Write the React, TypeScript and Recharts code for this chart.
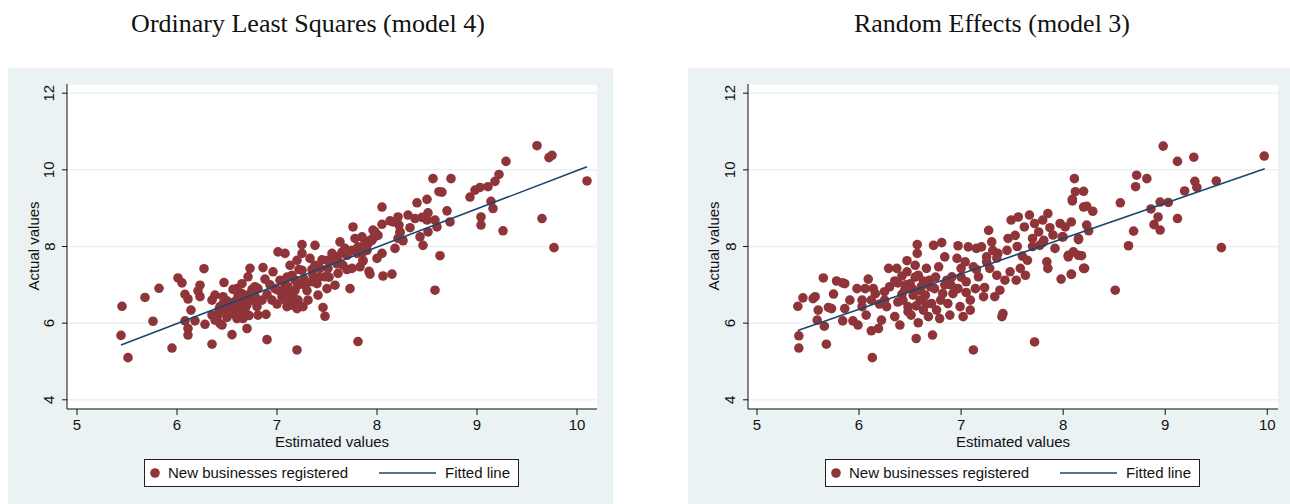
import { ScatterChart, Scatter, XAxis, YAxis, CartesianGrid } from "recharts";

// OLS (model 4): estimated vs actual
const olsEstimated = [
  5.45, 5.44, 5.51, 5.68, 5.76, 5.82, 5.95, 6.01, 6.05, 6.08, 6.11, 6.14, 6.08, 6.11, 6.11, 6.18, 6.23, 6.21, 6.23, 6.27,
  6.28, 6.35, 6.35, 6.38, 6.43, 6.47, 6.46, 6.41, 6.45, 6.5, 6.55, 6.56, 6.58, 6.61, 6.65, 6.68, 6.66, 6.7, 6.71, 6.73,
  6.75, 6.76, 6.81, 6.81, 6.86, 6.89, 6.9, 6.95, 6.96, 6.98, 7.01, 7.08, 7.03, 7.05, 7.1, 7.11, 7.13, 7.15, 7.16, 7.2,
  7.2, 7.2, 7.21, 7.25, 7.25, 7.26, 7.25, 7.31, 7.33, 7.35, 7.38, 7.38, 7.4, 7.41, 7.46, 7.48, 7.5, 7.48, 7.51, 7.55,
  7.58, 7.61, 7.63, 7.66, 7.68, 7.73, 7.75, 7.76, 7.78, 7.81, 7.81, 7.86, 7.88, 7.93, 7.95, 7.98, 8.0, 8.05, 8.05, 8.06,
  8.05, 8.13, 8.15, 8.18, 8.21, 8.23, 6.35, 6.38, 6.43, 6.48, 6.51, 6.55, 6.6, 6.61, 6.65, 6.68, 6.71, 6.65, 6.78, 6.8,
  6.85, 7.01, 7.08, 7.13, 7.18, 7.21, 7.28, 7.15, 7.08, 7.36, 7.43, 7.51, 7.56, 7.61, 7.7, 7.75, 7.8, 7.91, 7.96, 8.01,
  8.16, 8.21, 7.96, 7.98, 7.93, 7.9, 7.86, 7.86, 7.83, 7.92, 8.22, 8.23, 8.26, 8.31, 8.33, 8.38, 8.4, 8.43, 8.45, 8.46,
  8.5, 8.5, 8.51, 8.51, 8.58, 8.6, 8.63, 8.65, 8.62, 8.7, 8.73, 8.56, 8.74, 8.58, 8.93, 8.98, 9.03, 9.11, 9.04, 9.04,
  9.14, 9.16, 9.18, 9.22, 9.26, 9.29, 9.6, 9.65, 9.72, 9.75, 9.77, 10.1,
  6.42, 6.52, 6.57, 6.62, 6.7, 6.72, 6.5, 6.46, 6.9, 6.93, 7.05, 7.1, 7.18, 7.22, 7.27, 7.3, 7.35, 7.42, 7.45, 7.52,
  7.6, 7.65, 7.7, 7.85, 7.9, 6.6, 6.78, 7.0, 6.88, 7.12,
];
const olsActual = [
  6.44, 5.68, 5.1, 6.67, 6.05, 6.91, 5.35, 7.18, 7.05, 6.75, 6.63, 6.34, 6.06, 5.86, 5.69, 6.06, 6.99, 6.84, 6.69, 7.42,
  5.97, 5.45, 6.6, 6.73, 6.43, 7.06, 6.69, 6.21, 5.95, 6.15, 5.7, 6.88, 6.34, 6.69, 7.03, 6.34, 6.12, 5.86, 7.21, 7.43,
  6.88, 6.6, 6.21, 6.9, 7.45, 6.23, 5.57, 6.6, 7.34, 6.9, 7.86, 7.82, 7.12, 6.69, 6.43, 6.95, 7.51, 7.25, 6.69, 5.3,
  7.64, 6.38, 6.99, 8.05, 7.38, 6.43, 7.82, 6.6, 7.69, 7.08, 8.03, 7.51, 7.03, 6.73, 6.41, 6.18, 6.9, 7.21, 7.64, 7.82,
  6.99, 7.3, 8.12, 7.51, 7.95, 6.9, 7.43, 8.51, 8.21, 5.52, 7.99, 7.64, 8.12, 7.28, 8.16, 8.38, 7.69, 7.82, 9.03, 7.23,
  8.58, 8.67, 7.28, 7.95, 8.77, 8.38, 6.21, 6.08, 5.99, 6.3, 6.43, 6.25, 6.12, 6.51, 6.43, 6.6, 6.73, 6.77, 6.95, 6.43,
  6.6, 6.86, 7.03, 6.77, 7.12, 6.6, 6.99, 6.47, 6.6, 7.25, 7.43, 7.43, 7.64, 7.73, 7.77, 7.9, 7.82, 8.08, 8.21, 8.29,
  8.64, 8.21, 8.43, 8.27, 8.16, 8.03, 7.86, 7.62, 7.47, 7.35, 8.56, 8.36, 8.15, 8.82, 8.49, 8.73, 9.14, 8.25, 8.76, 8.03,
  8.69, 9.23, 8.88, 8.38, 8.69, 8.51, 7.76, 9.42, 9.43, 8.93, 8.64, 9.77, 9.77, 6.86, 9.29, 9.47, 9.54, 9.56, 8.77, 8.56,
  9.18, 8.99, 9.7, 9.88, 8.41, 10.22, 10.63, 8.73, 10.32, 10.38, 7.97, 9.71,
  6.35, 6.38, 6.55, 6.28, 6.48, 6.2, 6.58, 6.5, 6.75, 7.0, 6.85, 7.2, 6.85, 7.4, 7.15, 6.85, 7.4, 7.2, 7.65, 7.2,
  7.55, 7.85, 7.4, 8.25, 7.9, 6.9, 6.7, 6.5, 7.15, 6.6,
];
const olsFitX = [5.44, 10.1];
const olsFitY = [5.43, 10.08];

// Random effects (model 3): estimated vs actual
const reEstimated = [
  5.4, 5.41, 5.41, 5.45, 5.55, 5.57, 5.6, 5.59, 5.66, 5.68, 5.65, 5.7, 5.73, 5.75, 5.78, 5.84, 5.86, 5.84, 5.86, 5.91,
  5.94, 5.98, 5.99, 6.03, 6.03, 6.06, 6.07, 6.09, 6.12, 6.13, 6.14, 6.16, 6.19, 6.22, 6.25, 6.25, 6.27, 6.29, 6.35, 6.37,
  6.38, 6.4, 6.42, 6.43, 6.45, 6.47, 6.47, 6.48, 6.5, 6.51, 6.53, 6.55, 6.56, 6.57, 6.57, 6.58, 6.58, 6.6, 6.61, 6.63,
  6.65, 6.66, 6.68, 6.69, 6.71, 6.72, 6.73, 6.74, 6.76, 6.78, 6.79, 6.81, 6.82, 6.84, 6.86, 6.87, 6.89, 6.91, 6.92, 6.96,
  6.97, 6.97, 6.99, 7.0, 7.02, 7.04, 7.05, 7.07, 7.09, 7.09, 7.12, 7.12, 7.14, 7.15, 7.17, 7.2, 7.22, 7.23, 7.25, 7.27,
  7.28, 7.3, 7.31, 7.33, 7.35, 7.36, 7.38, 7.4, 7.41, 7.43, 7.46, 7.48, 7.49, 7.53, 7.54, 7.56, 7.58, 7.62, 7.63, 7.65,
  7.67, 7.7, 7.72, 7.72, 7.76, 7.77, 7.8, 7.84, 7.85, 7.85, 7.87, 7.92, 7.97, 7.98, 8.0, 8.05, 8.08, 8.08, 8.1, 8.15,
  8.15, 8.2, 8.2, 8.09, 7.81, 7.99, 8.02, 8.05, 8.08, 8.09, 8.12, 8.11, 8.15, 8.18, 8.2, 8.21, 8.23, 8.23, 8.25, 8.29,
  8.51, 8.56, 8.64, 8.69, 8.71, 8.72, 8.82, 8.86, 8.89, 8.93, 8.95, 8.95, 8.98, 9.03, 9.12, 9.12, 9.19, 9.28, 9.29, 9.31,
  9.5, 9.55, 9.97,
  6.3, 6.35, 6.42, 6.46, 6.52, 6.55, 6.6, 6.63, 6.66, 6.7, 6.75, 6.8, 6.84, 6.48, 6.56, 6.9, 7.0, 7.05, 7.15, 7.25,
  7.35, 7.45, 7.55, 7.6, 7.7, 7.8, 7.9, 6.2, 6.12, 6.38,
];
const reActual = [
  6.44, 5.67, 5.35, 6.66, 6.64, 6.69, 6.34, 6.08, 5.92, 5.45, 7.18, 6.41, 6.38, 6.76, 7.1, 7.05, 7.03, 6.06, 6.38, 6.6,
  6.06, 6.9, 5.95, 6.6, 6.43, 6.9, 6.21, 7.15, 5.8, 5.1, 6.9, 6.77, 5.86, 6.08, 6.82, 6.6, 6.43, 7.43, 6.17, 7.43,
  7.05, 5.95, 7.23, 6.6, 6.88, 7.63, 7.34, 6.43, 7.03, 6.21, 6.73, 7.51, 5.6, 8.05, 7.82, 6.01, 7.25, 6.6, 6.95, 6.34,
  6.73, 7.43, 6.17, 7.12, 6.51, 5.69, 8.03, 6.9, 6.34, 7.47, 6.12, 8.1, 6.77, 7.73, 7.12, 6.51, 6.21, 7.21, 6.77, 7.69,
  8.02, 6.9, 6.43, 7.43, 6.17, 7.6, 7.08, 7.99, 6.6, 6.34, 5.3, 7.47, 6.9, 7.95, 7.21, 7.99, 6.69, 6.93, 7.73, 8.42,
  7.43, 8.12, 7.9, 6.69, 7.25, 7.82, 6.86, 6.17, 6.25, 7.12, 8.21, 7.34, 8.69, 8.29, 7.12, 8.77, 7.43, 8.51, 7.25, 7.64,
  8.82, 8.21, 5.51, 8.6, 8.38, 8.03, 8.69, 7.6, 8.86, 7.43, 8.49, 7.95, 8.6, 7.15, 8.25, 7.73, 7.28, 8.64, 7.86, 7.77,
  8.21, 7.43, 9.03, 9.19, 8.16, 8.25, 8.51, 7.77, 7.27, 9.23, 9.43, 9.77, 8.18, 7.76, 9.44, 7.43, 9.05, 8.56, 8.41, 8.92,
  6.86, 9.14, 8.02, 8.4, 9.56, 9.86, 9.77, 8.98, 8.57, 8.77, 9.16, 8.43, 10.62, 9.15, 10.22, 8.73, 9.45, 10.33, 9.7, 9.54,
  9.71, 7.97, 10.36,
  6.95, 7.1, 6.75, 7.0, 6.9, 7.2, 6.85, 7.1, 6.5, 6.95, 7.2, 6.6, 7.0, 6.3, 6.45, 7.0, 7.2, 6.8, 7.4, 7.6,
  7.7, 7.9, 8.0, 7.75, 8.0, 8.1, 8.3, 6.5, 6.6, 6.55,
];
const reFitX = [5.4, 9.975];
const reFitY = [5.81, 10.03];

const xTicks = [5, 6, 7, 8, 9, 10];
const yTicks = [4, 6, 8, 10, 12];

const SANS = '"Liberation Sans", Arial, Helvetica, sans-serif';
const SERIF = '"Liberation Serif", "Times New Roman", serif';
const DOT = "#8f353a";
const NAVY = "#1a476f";
const PANEL_BG = "#eaf2f3";
const INK = "#111";

const PANEL_TOP = 68;
const PANEL_H = 504 - PANEL_TOP;
const Y_AXIS_W = 40;
const X_AXIS_H = 30;

const toPoints = (xs: number[], ys: number[]) => xs.map((x, i) => ({ x, y: ys[i] }));

const YTick = (props: any) => {
  const { x, y, payload } = props;
  return (
    <text
      x={x}
      y={y}
      transform={`rotate(-90 ${x} ${y})`}
      textAnchor="middle"
      dominantBaseline="central"
      fontSize={15}
      fontFamily={SANS}
      fill={INK}
    >
      {payload.value}
    </text>
  );
};

const Dot = (props: any) => <circle cx={props.cx} cy={props.cy} r={4.8} fill={DOT} />;

interface PanelProps {
  title: string;
  titleCenter: number;
  left: number;
  width: number;
  plotLeft: number;
  plotRight: number;
  xDomain: [number, number];
  estimated: number[];
  actual: number[];
  fitX: number[];
  fitY: number[];
  legendLeft: number;
  yTitleX: number;
}

function Panel(p: PanelProps) {
  const points = toPoints(p.estimated, p.actual);
  const fit = toPoints(p.fitX, p.fitY);
  const plotW = p.plotRight - p.plotLeft;

  return (
    <>
      <div
        style={{
          position: "absolute",
          left: p.titleCenter,
          top: 11,
          transform: "translateX(-50%)",
          whiteSpace: "nowrap",
          fontFamily: SERIF,
          fontSize: 26,
          lineHeight: "26px",
          color: "#111",
        }}
      >
        {p.title}
      </div>

      <div style={{ position: "absolute", left: p.left, top: PANEL_TOP, width: p.width, height: PANEL_H, background: PANEL_BG }}>
        <ScatterChart
          width={p.width}
          height={PANEL_H}
          margin={{
            top: 16,
            right: p.left + p.width - p.plotRight,
            left: p.plotLeft - p.left - Y_AXIS_W,
            bottom: 95 - X_AXIS_H,
          }}
        >
          <CartesianGrid vertical={false} stroke={PANEL_BG} strokeWidth={1.5} fill="#fff" />
          <XAxis
            type="number"
            dataKey="x"
            domain={p.xDomain}
            ticks={xTicks}
            allowDataOverflow
            height={X_AXIS_H}
            tickSize={6}
            tickMargin={4}
            stroke={INK}
            tick={{ fontSize: 15, fontFamily: SANS, fill: INK }}
          />
          <YAxis
            type="number"
            dataKey="y"
            domain={[3.76, 12.24]}
            ticks={yTicks}
            allowDataOverflow
            width={Y_AXIS_W}
            tickSize={5}
            tickMargin={13}
            stroke={INK}
            tick={<YTick />}
          />
          <Scatter data={points} shape={<Dot />} isAnimationActive={false} />
          <Scatter
            data={fit}
            line={{ stroke: NAVY, strokeWidth: 1.6 }}
            shape={() => <g />}
            isAnimationActive={false}
          />
        </ScatterChart>
      </div>

      <div
        style={{
          position: "absolute",
          left: p.yTitleX,
          top: 246,
          transform: "translate(-50%, -50%) rotate(-90deg)",
          whiteSpace: "nowrap",
          fontFamily: SANS,
          fontSize: 15,
          color: INK,
        }}
      >
        Actual values
      </div>
      <div
        style={{
          position: "absolute",
          left: p.plotLeft + plotW / 2,
          top: 441,
          transform: "translate(-50%, -50%)",
          whiteSpace: "nowrap",
          fontFamily: SANS,
          fontSize: 15,
          color: INK,
        }}
      >
        Estimated values
      </div>

      <div
        style={{
          position: "absolute",
          left: p.legendLeft,
          top: 459,
          width: 375,
          height: 28,
          boxSizing: "border-box",
          border: "1px solid #222",
          background: "#fff",
          fontFamily: SANS,
          fontSize: 15,
          color: INK,
        }}
      >
        <svg width={375} height={28} style={{ position: "absolute", left: -1, top: -1 }}>
          <circle cx={11} cy={14} r={4.8} fill={DOT} />
          <line x1={235} x2={292} y1={14} y2={14} stroke={NAVY} strokeWidth={1.6} />
        </svg>
        <span style={{ position: "absolute", left: 23, top: 4, lineHeight: "18px" }}>New businesses registered</span>
        <span style={{ position: "absolute", left: 300, top: 4, lineHeight: "18px" }}>Fitted line</span>
      </div>
    </>
  );
}

export default function App() {
  return (
    <div style={{ position: "absolute", left: 0, top: 0, width: 1290, height: 504, background: "#fff", overflow: "hidden" }}>
      <Panel
        title="Ordinary Least Squares (model 4)"
        titleCenter={308}
        left={8}
        width={605}
        plotLeft={67}
        plotRight={597}
        xDomain={[4.9, 10.2]}
        estimated={olsEstimated}
        actual={olsActual}
        fitX={olsFitX}
        fitY={olsFitY}
        legendLeft={144}
        yTitleX={33}
      />
      <Panel
        title="Random Effects (model 3)"
        titleCenter={992}
        left={688}
        width={602}
        plotLeft={748}
        plotRight={1278}
        xDomain={[4.912, 10.105]}
        estimated={reEstimated}
        actual={reActual}
        fitX={reFitX}
        fitY={reFitY}
        legendLeft={825}
        yTitleX={713}
      />
    </div>
  );
}
